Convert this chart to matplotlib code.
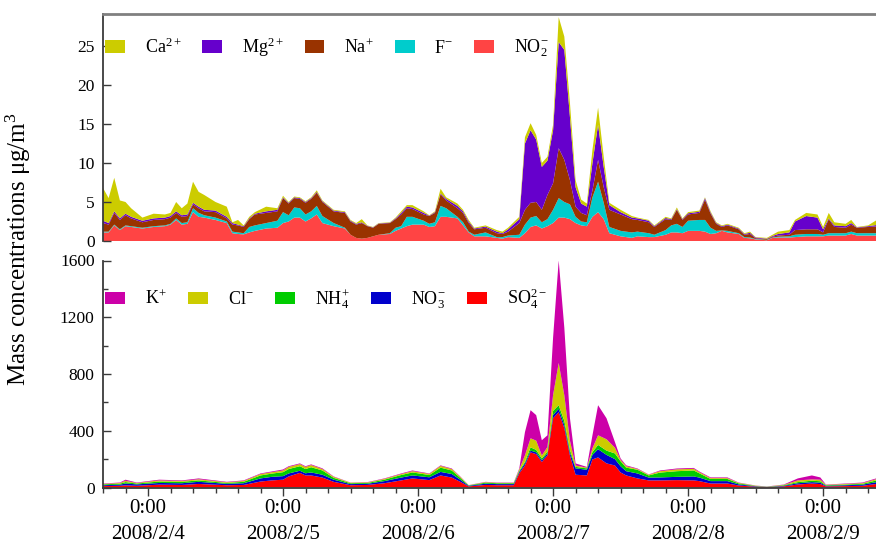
import numpy as np
import matplotlib
matplotlib.use("Agg")
import matplotlib.pyplot as plt
from matplotlib.ticker import MultipleLocator, FuncFormatter
import matplotlib.dates as mdates
import datetime as dt

plt.rcParams['font.family'] = ['Liberation Serif', 'DejaVu Serif']
plt.rcParams['mathtext.fontset'] = 'custom'
plt.rcParams['mathtext.rm'] = 'Liberation Serif'
plt.rcParams['mathtext.it'] = 'Liberation Serif:italic'
plt.rcParams['mathtext.bf'] = 'Liberation Serif:bold'
plt.rcParams['mathtext.default'] = 'rm'

# ---------------- data (hours after 2008/2/4 0:00) ----------------
top_hours = [-8, -7, -6, -5, -4, -3, -1, 1, 3, 4, 5, 6, 7, 8, 9, 10, 12, 14, 15, 16, 17, 18, 19, 21, 23,
             24, 25, 26, 27, 28, 29, 30, 31, 33, 35, 36, 37, 38, 39, 40, 41, 43, 44, 45, 46, 47, 49, 50,
             51, 52, 53, 55, 56, 57, 58, 60, 62, 63, 64, 66, 67, 68, 69, 70, 71, 72, 73, 74, 75, 76, 77,
             78, 79, 80, 81, 82, 84, 86, 87, 89, 90, 92, 93, 94, 95, 96, 98, 99, 100, 101, 102, 103, 105,
             106, 107, 108, 110, 111, 112, 114, 115, 117, 119, 120, 121, 122, 124, 125, 126, 128, 130]
no2 = [1.1, 1.1, 2.0, 1.4, 1.9, 1.8, 1.6, 1.8, 1.9, 2.1, 2.7, 2.1, 2.2, 3.7, 3.1, 3.0, 2.7, 2.3, 1.0, 0.9, 0.85,
       1.1, 1.3, 1.6, 1.7, 2.3, 2.5, 3.0, 3.0, 2.5, 2.9, 3.4, 2.3, 1.9, 1.6, 0.8, 0.4, 0.3, 0.4, 0.6, 0.8,
       0.9, 1.3, 1.6, 1.9, 2.1, 2.1, 1.8, 1.9, 3.1, 3.1, 2.9, 2.0, 1.1, 0.6, 0.6, 0.4, 0.3, 0.5, 0.4, 1.0,
       1.8, 2.0, 1.6, 1.9, 2.3, 3.0, 3.0, 2.8, 2.3, 2.0, 1.9, 3.1, 3.7, 2.8, 1.0, 0.6, 0.4, 0.6, 0.5, 0.5,
       0.8, 1.1, 1.1, 1.0, 1.3, 1.3, 1.2, 0.9, 1.0, 1.3, 1.1, 0.9, 0.4, 0.35, 0.2, 0.1, 0.4, 0.45, 0.45,
       0.5, 0.6, 0.6, 0.6, 0.7, 0.7, 0.7, 0.9, 0.7, 0.7, 0.7]
f_ion = [0.1, 0.1, 0.1, 0.1, 0.1, 0.1, 0.1, 0.1, 0.1, 0.1, 0.2, 0.2, 0.2, 0.5, 0.5, 0.3, 0.3, 0.2, 0.2, 0.2, 0.15,
         0.7, 0.7, 0.7, 0.9, 1.4, 0.8, 1.3, 1.2, 0.9, 0.9, 1.1, 0.9, 0.4, 0.1, 0.0, 0.0, 0.0, 0.0, 0.0, 0.0,
         0.1, 0.4, 0.3, 1.2, 1.0, 0.5, 0.4, 0.5, 1.4, 1.1, 0.2, 0.4, 0.1, 0.2, 0.5, 0.1, 0.2, 0.2, 0.4, 1.1,
         1.2, 1.2, 0.8, 0.9, 1.7, 2.5, 2.0, 1.9, 0.8, 0.5, 0.5, 2.5, 3.9, 2.1, 0.8, 0.7, 0.7, 0.6, 0.5, 0.3,
         0.6, 0.9, 1.1, 0.8, 1.3, 1.4, 1.5, 0.8, 0.3, 0.05, 0.2, 0.1, 0.1, 0.1, 0.05, 0.05, 0.05, 0.1, 0.15,
         0.3, 0.3, 0.3, 0.2, 0.3, 0.3, 0.3, 0.3, 0.3, 0.3, 0.3]
na = [1.1, 0.9, 1.5, 1.2, 1.3, 1.0, 0.7, 0.8, 0.8, 0.8, 0.7, 0.8, 0.8, 0.5, 0.6, 0.5, 0.7, 0.4, 0.9, 0.9, 0.8,
      1.0, 1.4, 1.3, 1.2, 1.8, 1.5, 1.2, 1.2, 1.5, 1.6, 1.7, 1.8, 1.5, 1.9, 1.7, 1.7, 2.0, 1.5, 1.1, 1.4,
      1.3, 1.1, 1.5, 1.1, 1.0, 0.8, 1.0, 1.2, 1.5, 1.0, 1.1, 1.2, 1.1, 0.7, 0.6, 0.5, 0.4, 0.5, 1.5, 1.9,
      1.9, 1.8, 1.6, 3.1, 3.4, 6.4, 5.4, 3.1, 1.3, 1.1, 0.9, 0.9, 2.8, 2.0, 2.2, 2.1, 1.7, 1.5, 1.4, 1.0,
      1.4, 0.7, 1.8, 0.9, 0.8, 0.9, 2.6, 1.8, 0.9, 0.45, 0.7, 0.5, 0.3, 0.45, 0.1, 0.1, 0.1, 0.15, 0.2,
      0.6, 0.6, 0.6, 0.3, 1.8, 0.8, 0.7, 0.9, 0.7, 0.8, 0.9]
mg = [0.3, 0.2, 0.2, 0.2, 0.2, 0.2, 0.2, 0.2, 0.2, 0.2, 0.2, 0.2, 0.2, 0.2, 0.2, 0.2, 0.2, 0.2, 0.2, 0.1, 0.1,
      0.1, 0.1, 0.2, 0.2, 0.1, 0.1, 0.1, 0.1, 0.1, 0.1, 0.1, 0.1, 0.1, 0.1, 0.1, 0.1, 0.1, 0.05, 0.05, 0.05,
      0.05, 0.1, 0.2, 0.2, 0.2, 0.2, 0.05, 0.1, 0.1, 0.2, 0.3, 0.2, 0.2, 0.1, 0.15, 0.2, 0.1, 0.3, 0.5, 8.5,
      9.3, 8.0, 5.5, 4.4, 6.8, 13.6, 14.1, 8.1, 2.5, 1.2, 1.1, 3.5, 4.5, 2.6, 0.6, 0.3, 0.2, 0.2, 0.2, 0.1,
      0.15, 0.1, 0.1, 0.1, 0.15, 0.15, 0.2, 0.15, 0.1, 0.1, 0.1, 0.1, 0.1, 0.15, 0.1, 0.05, 0.1, 0.2, 0.3,
      1.1, 1.7, 1.5, 0.4, 0.1, 0.2, 0.2, 0.2, 0.05, 0.1, 0.2]
ca = [4.2, 3.2, 4.3, 2.3, 1.5, 1.1, 0.4, 0.6, 0.4, 0.4, 1.2, 0.9, 1.4, 2.7, 1.9, 1.9, 1.1, 1.3, 0.1, 0.6, 0.1,
      0.2, 0.2, 0.6, 0.2, 0.2, 0.1, 0.1, 0.1, 0.1, 0.1, 0.2, 0.1, 0.1, 0.1, 0.1, 0.1, 0.4, 0.05, 0.05, 0.05,
      0.05, 0.1, 0.2, 0.2, 0.3, 0.2, 0.05, 0.1, 0.6, 0.2, 0.3, 0.2, 0.2, 0.1, 0.15, 0.2, 0.2, 0.2, 0.3, 0.8,
      0.9, 0.6, 0.5, 0.5, 0.7, 3.2, 1.7, 1.8, 0.9, 0.5, 0.4, 1.7, 2.2, 1.3, 0.3, 0.3, 0.2, 0.1, 0.1, 0.1,
      0.15, 0.1, 0.2, 0.1, 0.15, 0.15, 0.1, 0.15, 0.1, 0.1, 0.1, 0.1, 0.1, 0.15, 0.05, 0.1, 0.15, 0.3, 0.3,
      0.2, 0.4, 0.4, 0.3, 0.7, 0.4, 0.3, 0.4, 0.05, 0.1, 0.8]

bot_hours = [-8, -5, -4, -2, 2, 6, 9, 14, 17, 20, 22, 24, 25, 27, 28, 29, 31, 33, 36, 39, 42, 45, 47, 50,
             52, 54, 55.5, 57, 60, 62, 65, 66, 67, 68, 69, 70, 71, 72, 73, 74, 75, 76, 78, 79, 80, 81.5,
             83, 84, 85, 87, 89, 91, 94, 97, 98, 100, 103, 105, 108, 110, 113, 115.5, 118, 119.5, 120.5,
             124, 127, 130]
so4 = [10, 12, 15, 12, 20, 18, 25, 16, 18, 42, 50, 55, 78, 103, 85, 85, 70, 40, 16, 18, 30, 50, 64, 52,
       85, 70, 40, 8, 18, 16, 16, 100, 155, 248, 235, 180, 226, 488, 531, 418, 226, 90, 85, 198, 212, 170,
       155, 106, 85, 64, 50, 50, 52, 50, 45, 28, 28, 14, 6, 3, 8, 21, 28, 24, 8, 10, 12, 28]
no3 = [6, 8, 13, 10, 12, 12, 15, 10, 12, 22, 25, 25, 21, 15, 15, 21, 20, 15, 8, 8, 15, 20, 21, 20,
       25, 25, 15, 4, 9, 8, 8, 10, 15, 12, 13, 11, 14, 22, 24, 22, 19, 45, 40, 32, 58, 60,
       45, 44, 30, 35, 20, 21, 23, 28, 25, 17, 17, 8, 3, 1, 4, 9, 10, 10, 4, 6, 8, 14]
nh4 = [6, 7, 10, 6, 10, 10, 10, 6, 10, 21, 23, 28, 31, 32, 30, 37, 30, 13, 6, 6, 10, 18, 21, 16,
       30, 25, 13, 3, 7, 6, 6, 8, 10, 23, 17, 14, 12, 30, 25, 30, 20, 10, 10, 20, 30, 30,
       40, 35, 25, 26, 15, 34, 40, 42, 30, 15, 15, 7, 2, 1, 4, 8, 10, 10, 4, 5, 6, 13]
cl = [3, 5, 9, 4, 8, 6, 8, 5, 6, 10, 10, 12, 15, 15, 15, 15, 10, 7, 4, 4, 6, 7, 9, 8,
      12, 10, 7, 1, 4, 3, 3, 10, 46, 64, 65, 21, 33, 111, 298, 180, 65, 10, 5, 26, 68, 80,
      40, 10, 10, 5, 5, 10, 13, 12, 8, 6, 6, 4, 2, 1, 3, 12, 9, 11, 3, 4, 5, 10]
k = [3, 3, 8, 3, 5, 4, 6, 3, 4, 4, 5, 7, 5, 5, 5, 5, 5, 3, 1, 2, 3, 4, 5, 3,
     4, 4, 3, 1, 2, 2, 2, 7, 164, 198, 180, 107, 83, 404, 722, 476, 158, 15, 5, 92, 212, 148,
     40, 10, 6, 4, 2, 5, 6, 6, 5, 5, 5, 2, 1, 1, 2, 14, 28, 16, 2, 3, 4, 6]

top_labels = ['Ca$^{2+}$', 'Mg$^{2+}$', 'Na$^{+}$', 'F$^{-}$', 'NO$_{2}^{-}$']
top_colors = ['#cccc00', '#6600cc', '#993300', '#00cccc', '#ff4444']
bot_labels = ['K$^{+}$', 'Cl$^{-}$', 'NH$_{4}^{+}$', 'NO$_{3}^{-}$', 'SO$_{4}^{2-}$']
bot_colors = ['#cc00a8', '#cccc00', '#00cc00', '#0000cc', '#ff0000']

# ---------------- figure ----------------
W, H = 876, 545
fig = plt.figure(figsize=(W / 100, H / 100), dpi=100)
left = 103
ax1 = fig.add_axes([left / W, (H - 241) / H, (W - left) / W, (241 - 14) / H])
ax2 = fig.add_axes([left / W, (H - 487.5) / H, (W - left) / W, (487.5 - 260.5) / H], sharex=ax1)

base = dt.datetime(2008, 2, 4)

def to_num(hours):
    return mdates.date2num([base + dt.timedelta(hours=float(h)) for h in hours])

xt = to_num(top_hours)
xb = to_num(bot_hours)

p1 = ax1.stackplot(xt, no2, f_ion, na, mg, ca, colors=top_colors[::-1],
                   labels=top_labels[::-1], linewidth=0)
p2 = ax2.stackplot(xb, so4, no3, nh4, cl, k, colors=bot_colors[::-1],
                   labels=bot_labels[::-1], linewidth=0)

x0 = mdates.date2num(base - dt.timedelta(hours=8))
x1 = mdates.date2num(base + dt.timedelta(hours=129.4))
ax1.set_xlim(x0, x1)
ax1.set_ylim(0, 29.1)
ax2.set_ylim(0, 1600)

spine_col = '#3a3a3a'
for s in ['right', 'bottom']:
    ax1.spines[s].set_visible(False)
ax1.spines['top'].set_color('#808080')
ax1.spines['top'].set_linewidth(2)
ax1.spines['left'].set_color(spine_col)
ax1.spines['left'].set_linewidth(1.3)
for s in ['right', 'top']:
    ax2.spines[s].set_visible(False)
for s in ['left', 'bottom']:
    ax2.spines[s].set_color(spine_col)
    ax2.spines[s].set_linewidth(1.3)

ax1.yaxis.set_major_locator(MultipleLocator(5))
ax1.tick_params(axis='y', direction='in', length=6, width=1, labelsize=12.5, pad=6, colors=spine_col,
                labelcolor='black')
ax1.tick_params(axis='x', which='both', bottom=False, labelbottom=False)

ax2.yaxis.set_major_locator(MultipleLocator(400))
ax2.yaxis.set_minor_locator(MultipleLocator(200))
ax2.tick_params(axis='y', which='major', direction='in', length=6, width=1, labelsize=12.5, pad=6,
                colors=spine_col, labelcolor='black')
ax2.tick_params(axis='y', which='minor', direction='in', length=3.5, width=1, colors=spine_col)

ax2.xaxis.set_major_locator(mdates.DayLocator())
ax2.xaxis.set_minor_locator(mdates.HourLocator(byhour=range(0, 24, 4)))

def fmt(x, pos):
    d = mdates.num2date(x)
    return "0:00\n%d/%d/%d" % (d.year, d.month, d.day)

ax2.xaxis.set_major_formatter(FuncFormatter(fmt))
ax2.tick_params(axis='x', which='major', direction='out', length=6, width=1, labelsize=15, pad=2,
                colors=spine_col, labelcolor='black')
ax2.tick_params(axis='x', which='minor', direction='out', length=3.5, width=1, colors=spine_col)

leg_kw = dict(ncol=5, frameon=False, loc='center left', borderpad=0, borderaxespad=0,
              handlelength=1.1, handleheight=0.7, handletextpad=1.1, fontsize=13)
ax1.legend(p1[::-1], top_labels, bbox_to_anchor=(2 / 773, (241 - 47.5) / 227), columnspacing=1.15, **leg_kw)
ax2.legend(p2[::-1], bot_labels, bbox_to_anchor=(2 / 773, (487.5 - 298.5) / 227), columnspacing=1.2, **leg_kw)

fig.text(18 / W, 1 - 249 / H, 'Mass concentrations μg/m$^{3}$', rotation=90, fontsize=18,
         ha='center', va='center')

fig.canvas.draw()
for lab in ax2.get_xticklabels():
    lab.set_linespacing(1.55)

fig.savefig('out.png', dpi=100)
